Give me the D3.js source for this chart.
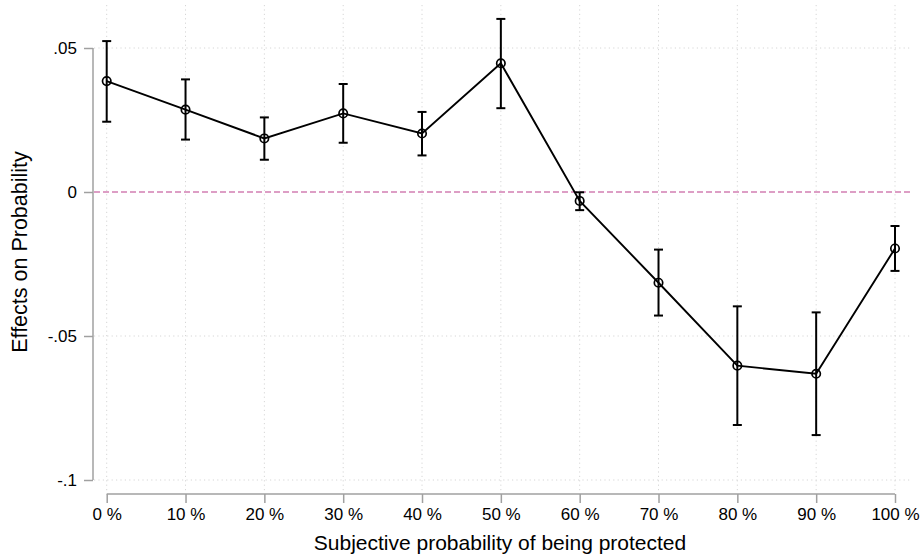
<!DOCTYPE html>
<html><head><meta charset="utf-8">
<script src="https://cdn.jsdelivr.net/npm/d3@7"></script>
<style>body{margin:0;background:#fff}svg{display:block;font-family:"Liberation Sans",Arial,sans-serif}</style>
</head><body><svg id="c" width="921" height="556"></svg>
<script>
const categories = [0,10,20,30,40,50,60,70,80,90,100];
const estimates = [0.0385,0.0286,0.0186,0.0273,0.0203,0.0447,-0.0031,-0.0315,-0.0603,-0.0631,-0.0196];
const ciUpper  = [0.0524,0.0391,0.0259,0.0375,0.0278,0.0601,-0.0001,-0.0200,-0.0397,-0.0418,-0.0118];
const ciLower  = [0.0244,0.0182,0.0112,0.0171,0.0127,0.0291,-0.0063,-0.0429,-0.0809,-0.0844,-0.0274];
const yTicks = [-0.1,-0.05,0,0.05];
const yTickLabels = ["-.1","-.05","0",".05"];

const svg = d3.select("#c");
const x = d3.scaleLinear().domain([0,100]).range([106.7,895]);
const y = d3.scaleLinear().domain([-0.1,0.05]).range([480,48]);

// grid
const g = svg.append("g");
g.selectAll(".vg").data(categories).join("line")
  .attr("x1",d=>x(d)).attr("x2",d=>x(d)).attr("y1",5).attr("y2",492)
  .attr("stroke","#d6d6d6").attr("stroke-width",1).attr("stroke-dasharray","1.2,3.2");
g.selectAll(".hg").data(yTicks.filter(d=>d!==0)).join("line")
  .attr("x1",94).attr("x2",910).attr("y1",d=>y(d)).attr("y2",d=>y(d))
  .attr("stroke","#d6d6d6").attr("stroke-width",1).attr("stroke-dasharray","1.2,3.2");
// zero ref
g.append("line").attr("x1",94).attr("x2",910).attr("y1",y(0)).attr("y2",y(0))
  .attr("stroke","#d27fb3").attr("stroke-width",1.5).attr("stroke-dasharray","6,3");

// y axis
const yAxis = d3.axisLeft(y).tickValues(yTicks).tickFormat((d,i)=>yTickLabels[i]).tickSize(9).tickPadding(7);
const ya = svg.append("g").attr("transform","translate(93,0)").call(yAxis);
ya.select(".domain").attr("stroke","#a0a0a0").attr("stroke-width",1.5).attr("d","M0,"+y(0.05)+"V"+y(-0.1));
ya.selectAll(".tick line").attr("stroke","#a0a0a0").attr("stroke-width",1.5);
ya.selectAll(".tick text").attr("font-size",17).attr("fill","#000").attr("font-family","Liberation Sans, Arial, sans-serif");

// x axis
const xAxis = d3.axisBottom(x).tickValues(categories).tickFormat(d=>d+" %").tickSize(9).tickPadding(5);
const xa = svg.append("g").attr("transform","translate(0,494)").call(xAxis);
xa.select(".domain").attr("stroke","#a0a0a0").attr("stroke-width",1.5).attr("d","M"+x(0)+",0H"+x(100));
xa.selectAll(".tick line").attr("stroke","#a0a0a0").attr("stroke-width",1.5);
xa.selectAll(".tick text").attr("font-size",17).attr("fill","#000").attr("font-family","Liberation Sans, Arial, sans-serif");

// titles
svg.append("text").attr("x",500).attr("y",550).attr("text-anchor","middle").attr("font-size",21).text("Subjective probability of being protected");
svg.append("text").attr("transform","translate(27,252) rotate(-90)").attr("text-anchor","middle").attr("font-size",21.5).text("Effects on Probability");

const data = categories.map((c,i)=>({c,e:estimates[i],lo:ciLower[i],hi:ciUpper[i]}));
// error bars
const eb = svg.append("g").attr("stroke","#000").attr("stroke-width",2);
eb.selectAll(".v").data(data).join("line").attr("x1",d=>x(d.c)).attr("x2",d=>x(d.c)).attr("y1",d=>y(d.lo)).attr("y2",d=>y(d.hi));
eb.selectAll(".t").data(data).join("line").attr("x1",d=>x(d.c)-4.5).attr("x2",d=>x(d.c)+4.5).attr("y1",d=>y(d.hi)).attr("y2",d=>y(d.hi));
eb.selectAll(".b").data(data).join("line").attr("x1",d=>x(d.c)-4.5).attr("x2",d=>x(d.c)+4.5).attr("y1",d=>y(d.lo)).attr("y2",d=>y(d.lo));

// line
svg.append("path").datum(data).attr("fill","none").attr("stroke","#000").attr("stroke-width",1.9)
  .attr("d",d3.line().x(d=>x(d.c)).y(d=>y(d.e)));
svg.selectAll(".pt").data(data).join("circle").attr("cx",d=>x(d.c)).attr("cy",d=>y(d.e)).attr("r",4.2)
  .attr("fill","none").attr("stroke","#000").attr("stroke-width",1.7);
</script></body></html>
